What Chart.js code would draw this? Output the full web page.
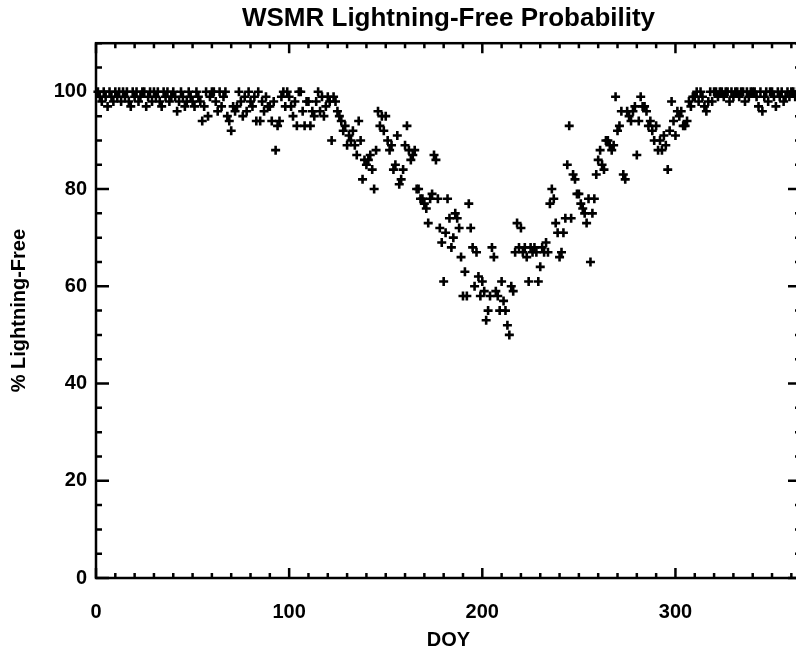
<!DOCTYPE html>
<html>
<head>
<meta charset="utf-8">
<script src="https://cdn.jsdelivr.net/npm/chart.js@4.4.1/dist/chart.umd.min.js"></script>
<style>
  html, body { margin: 0; padding: 0; background: #fff; overflow: hidden; }
</style>
</head>
<body>
<canvas id="c" width="801" height="655"></canvas>
<script>
// % lightning-free per day of year (DOY 1..365)
const lightningFree = [
  100, 99, 98, 100, 99, 97, 100, 99, 98, 100,
  99, 100, 98, 100, 99, 100, 98, 97, 100, 99,
  100, 98, 99, 100, 100, 97, 99, 100, 98, 100,
  99, 100, 98, 97, 100, 99, 100, 98, 99, 100,
  99, 96, 98, 100, 99, 97, 98, 100, 99, 98,
  97, 100, 99, 98, 94, 97, 100, 95, 99, 100,
  100, 98, 96, 100, 97, 99, 100, 95, 94, 92,
  97, 96, 97, 100, 98, 95, 99, 96, 100, 98,
  97, 99, 94, 100, 94, 98, 96, 99, 97, 97,
  94, 98, 88, 93, 94, 99, 100, 97, 100, 99,
  97, 95, 98, 93, 100, 100, 96, 93, 98, 98,
  93, 96, 95, 98, 100, 96, 99, 95, 97, 99,
  98, 90, 99, 98, 96, 95, 94, 92, 93, 89,
  91, 90, 92, 89, 87, 94, 90, 82, 86, 85,
  86, 87, 84, 80, 88, 96, 93, 95, 92, 95,
  90, 88, 89, 84, 85, 91, 81, 82, 84, 89,
  93, 88, 86, 87, 88, 80, 80, 78, 78, 77,
  76, 73, 78, 79, 87, 86, 78, 72, 69, 61,
  71, 78, 74, 68, 70, 75, 74, 72, 66, 58,
  63, 58, 77, 72, 68, 60, 67, 62, 58, 61,
  59, 53, 55, 58, 68, 66, 59, 58, 55, 61,
  57, 55, 52, 50, 60, 59, 67, 73, 68, 72,
  67, 68, 66, 61, 68, 67, 68, 67, 61, 64,
  68, 67, 69, 67, 77, 80, 78, 73, 71, 66,
  67, 71, 74, 85, 93, 74, 83, 82, 79, 79,
  77, 76, 75, 73, 78, 65, 75, 78, 83, 86,
  88, 85, 84, 90, 90, 89, 88, 89, 99, 92,
  93, 96, 83, 82, 96, 95, 94, 96, 97, 87,
  94, 99, 97, 97, 96, 93, 94, 92, 90, 93,
  88, 90, 88, 91, 89, 84, 92, 98, 94, 91,
  96, 95, 96, 93, 93, 94, 98, 97, 99, 99,
  100, 98, 100, 99, 97, 96, 98, 100, 98, 100,
  100, 99, 100, 100, 99, 100, 100, 98, 100, 99,
  100, 100, 99, 100, 100, 98, 100, 99, 100, 100,
  100, 99, 97, 100, 96, 99, 100, 98, 100, 100,
  99, 97, 100, 99, 100, 98, 99, 100, 99, 100,
  100, 99, 100, 99, 100
];

const xTicks = [0, 100, 200, 300];
const yTicks = [0, 20, 40, 60, 80, 100];
const xMax = 365;
const yMax = 110;

const points = lightningFree.map((v, i) => ({ x: i + 1, y: v }));

// IDL style box: frame on all four sides with inward major/minor ticks
const framePlugin = {
  id: "frame",
  afterDatasetsDraw(chart) {
    const { ctx, chartArea: a, scales } = chart;
    ctx.save();
    ctx.strokeStyle = "#000";
    ctx.lineWidth = 2.5;
    ctx.strokeRect(a.left, a.top, a.right - a.left, a.bottom - a.top);
    ctx.beginPath();
    for (let v = 0; v <= xMax; v += 10) {
      const px = scales.x.getPixelForValue(v);
      const len = v % 100 === 0 ? 10 : 5;
      ctx.moveTo(px, a.bottom); ctx.lineTo(px, a.bottom - len);
      ctx.moveTo(px, a.top); ctx.lineTo(px, a.top + len);
    }
    for (let v = 0; v <= yMax; v += 5) {
      const py = scales.y.getPixelForValue(v);
      const len = v % 20 === 0 ? 13 : 6;
      ctx.moveTo(a.left, py); ctx.lineTo(a.left + len, py);
      ctx.moveTo(a.right, py); ctx.lineTo(a.right - len, py);
    }
    ctx.stroke();
    ctx.restore();
  }
};

const labelFont = { family: "'Liberation Sans', Arial, sans-serif", size: 20, weight: "bold" };

new Chart(document.getElementById("c"), {
  type: "scatter",
  data: {
    datasets: [{
      data: points,
      pointStyle: "cross",
      radius: 4.5,
      borderWidth: 2.6,
      borderColor: "#000",
      backgroundColor: "#000",
      clip: false
    }]
  },
  options: {
    responsive: false,
    animation: false,
    layout: { padding: 0, autoPadding: false },
    plugins: {
      legend: { display: false },
      tooltip: { enabled: false },
      title: {
        display: true,
        text: "WSMR Lightning-Free Probability",
        color: "#000",
        fullSize: false,
        font: { family: "'Liberation Sans', Arial, sans-serif", size: 26, weight: "bold" },
        padding: { top: 3, bottom: 9 }
      }
    },
    scales: {
      x: {
        type: "linear",
        min: 0,
        max: xMax,
        afterBuildTicks: s => { s.ticks = xTicks.map(v => ({ value: v })); },
        afterFit: s => { s.height = 77; },
        grid: { display: false, drawTicks: false },
        border: { display: false },
        ticks: { color: "#000", font: labelFont, padding: 22, maxRotation: 0 },
        title: { display: true, text: "DOY", color: "#000", font: labelFont, padding: { top: 0, bottom: 3 } }
      },
      y: {
        min: 0,
        max: yMax,
        afterBuildTicks: s => { s.ticks = yTicks.map(v => ({ value: v })); },
        afterFit: s => { s.width = 96; },
        grid: { display: false, drawTicks: false },
        border: { display: false },
        ticks: { color: "#000", font: labelFont, padding: 9 },
        title: { display: true, text: "% Lightning-Free", color: "#000", font: { family: "'Liberation Sans', Arial, sans-serif", size: 20, weight: "bold" }, padding: { top: 7, bottom: 0 } }
      }
    }
  },
  plugins: [framePlugin]
});
</script>
</body>
</html>
